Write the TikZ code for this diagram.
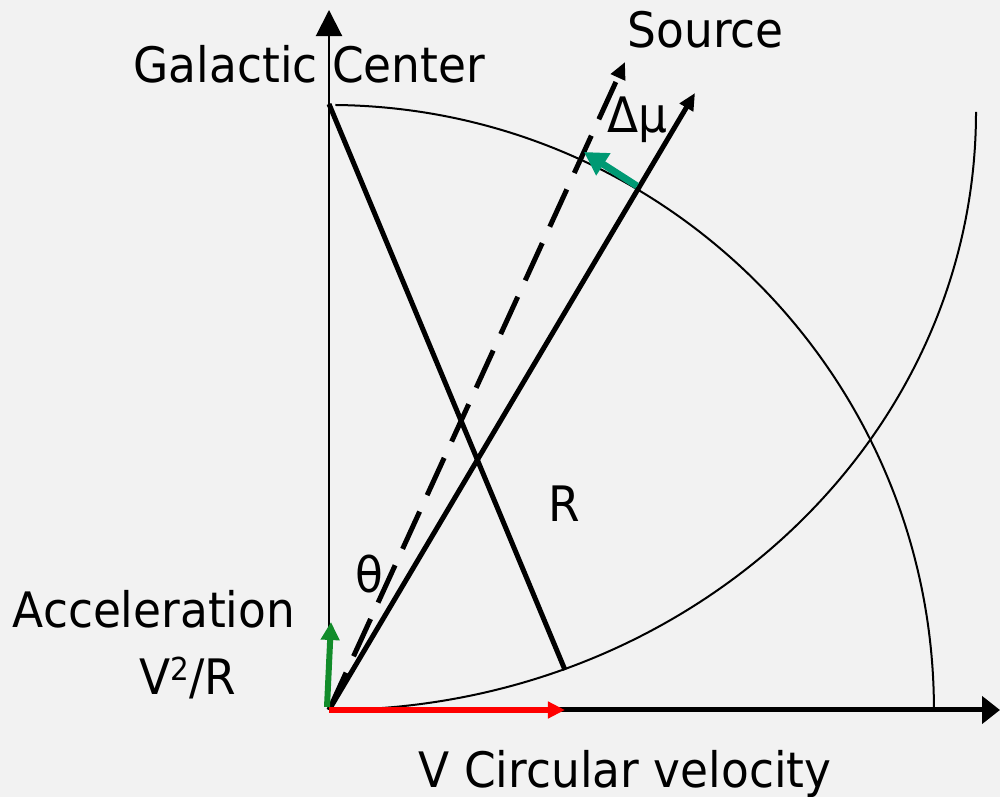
\documentclass[tikz,border=0pt]{standalone}
\usepackage{fontspec}
\setmainfont[FakeStretch=0.93]{DejaVu Sans}
\usetikzlibrary{arrows.meta}
\definecolor{bg}{HTML}{F2F2F2}
\definecolor{accgreen}{HTML}{128C2A}
\definecolor{teal}{HTML}{009973}
\tikzset{
  lbl/.style={inner sep=0pt, font=\fontsize{13.9}{16}\selectfont},
  thickline/.style={line width=0.5mm, black},
  thinline/.style={line width=0.2mm, black},
}
\begin{document}
\begin{tikzpicture}[x=0.01cm,y=0.01cm]
\fill[bg] (0,0) rectangle (1000,797);
\useasboundingbox (0,0) rectangle (1000,797);
% key points
\coordinate (O) at (329,87);
\coordinate (GC) at (329,693);
\coordinate (vtip) at (329,787);
\coordinate (htip) at (1000,87);
\coordinate (redtip) at (565,87);
\coordinate (gstart) at (327,90);
\coordinate (gtip) at (331,175);
\coordinate (Rend) at (565,127);
\coordinate (stip) at (695,704);
\coordinate (dtip) at (625,735);
\coordinate (tstart) at (637,611);
\coordinate (ttip) at (584,645);
% axes
\draw[thinline, -{Triangle[length=2.6mm,width=2.6mm]}] (O) -- (vtip);
\draw[thickline, -{Triangle[length=1.8mm,width=2.7mm]}] (O) -- (htip);
% arcs
\draw[thinline] (335.3,692) arc[start angle=89.4, end angle=0.3, radius=605];
\draw[thinline] (O) arc[start angle=-90, end angle=0, x radius=647, y radius=598];
% R line
\draw[thickline] (GC) -- (Rend);
% source directions
\draw[thickline, -{Triangle[length=1.7mm,width=1.5mm]}] (O) -- (stip);
\draw[thickline, dash pattern=on 4.1mm off 1.8mm, -{Triangle[length=1.7mm,width=1.5mm]}] (O) -- (dtip);
% velocity and acceleration
\draw[line width=0.6mm, red, -{Triangle[length=1.7mm,width=1.6mm]}] (O) -- (redtip);
\draw[line width=0.6mm, accgreen, -{Triangle[length=1.8mm,width=1.8mm]}] (gstart) -- (gtip);
\draw[line width=0.7mm, teal, -{Triangle[length=2.3mm,width=2.5mm]}] (tstart) -- (ttip);
% labels
\node[lbl, anchor=base west] (lsrc) at (627,749) {Source};
\node[lbl, anchor=base west] (lgc) at (133,714) {Galactic Center};
\node[lbl, anchor=base west] (ldmu) at (607,664) {Δμ};
\node[lbl, anchor=base west] (lR) at (548,275) {R};
\node[lbl, anchor=base] (lth) at (369,204) {θ};
\node[lbl, anchor=base west] (lacc) at (12,169) {Acceleration};
\node[lbl, anchor=base east] (lv2) at (237,102) {V\raisebox{0.55ex}{\fontsize{9}{10}\selectfont 2}/R};
\node[lbl, anchor=base west] (lv) at (418,9) {V Circular velocity};
\end{tikzpicture}
\end{document}
